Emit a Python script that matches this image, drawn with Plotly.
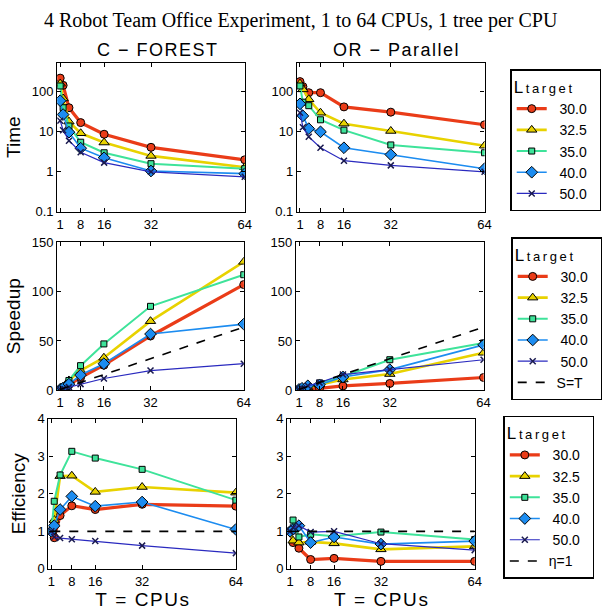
import plotly.graph_objects as go

# ---------------- data ----------------
T = [1, 2, 4, 8, 16, 32, 64]
labels = ["30.0", "32.5", "35.0", "40.0", "50.0"]

# C-FOREST time
cf_time_30 = [220, 145, 40, 17, 8.7, 4.1, 2.0]
cf_time_325 = [160, 68, 18, 9.2, 5.4, 2.5, 1.3]
cf_time_35 = [140, 40, 14, 5.5, 3.0, 1.6, 1.2]
cf_time_40 = [60, 27, 9.8, 3.9, 2.25, 1.05, 0.9]
cf_time_50 = [19, 11, 6.0, 3.1, 1.7, 1.0, 0.75]
# OR-Parallel time
or_time_30 = [180, 135, 95, 95, 42, 31, 15]
or_time_325 = [160, 115, 65, 30, 16, 10.5, 4.5]
or_time_35 = [140, 55, 45, 20, 11, 4.7, 3.0]
or_time_40 = [50, 25, 12, 10, 4.0, 2.7, 1.2]
or_time_50 = [30, 13, 7.5, 4.0, 1.9, 1.45, 1.0]
# C-FOREST speedup
cf_sp_30 = [1, 1.5, 5.5, 13, 25.5, 55, 107]
cf_sp_325 = [1, 2.6, 10, 20, 33, 70, 130]
cf_sp_35 = [1, 3.6, 10, 25, 47, 85, 117]
cf_sp_40 = [1, 2.3, 6.3, 15.5, 27, 57, 67]
cf_sp_50 = [1, 1.7, 3.3, 6.3, 12, 20, 27]
# OR-Parallel speedup
or_sp_30 = [1, 1.4, 2.2, 2.0, 4.5, 7, 13]
or_sp_325 = [1, 1.5, 2.8, 5.8, 11, 16.5, 38]
or_sp_35 = [1, 2.6, 3.4, 7.4, 14, 31, 48]
or_sp_40 = [1, 2.1, 4.6, 5.6, 13.5, 21, 46]
or_sp_50 = [1, 2.2, 4.6, 7.8, 16, 21, 31]
# C-FOREST efficiency
cf_eff_30 = [1, 0.83, 1.42, 1.68, 1.58, 1.72, 1.67]
cf_eff_325 = [1, 1.3, 2.47, 2.48, 2.05, 2.18, 2.03]
cf_eff_35 = [1, 1.8, 2.5, 3.13, 2.95, 2.65, 1.83]
cf_eff_40 = [1, 1.15, 1.58, 1.93, 1.67, 1.78, 1.05]
cf_eff_50 = [1, 0.85, 0.82, 0.79, 0.74, 0.62, 0.42]
# OR-Parallel efficiency
or_eff_30 = [1, 0.7, 0.55, 0.25, 0.28, 0.2, 0.2]
or_eff_325 = [1, 0.75, 0.7, 0.72, 0.68, 0.52, 0.6]
or_eff_35 = [1, 1.3, 0.85, 0.92, 0.87, 0.98, 0.78]
or_eff_40 = [1, 1.05, 1.15, 0.7, 0.85, 0.66, 0.74]
or_eff_50 = [1, 1.1, 1.15, 0.98, 1.0, 0.67, 0.5]
# reference lines
ideal_speedup = [1, 2, 4, 8, 16, 32, 64]
ideal_eff = [1, 1, 1, 1, 1, 1, 1]

x_ticks = [1, 8, 16, 32, 64]
time_ticks = [0.1, 1, 10, 100]
time_tick_text = ["0.1", "1", "10", "100"]
speedup_ticks = [0, 50, 100, 150]
eff_ticks = [0, 1, 2, 3, 4]

panels = [
    [cf_time_30, cf_time_325, cf_time_35, cf_time_40, cf_time_50],
    [or_time_30, or_time_325, or_time_35, or_time_40, or_time_50],
    [cf_sp_30, cf_sp_325, cf_sp_35, cf_sp_40, cf_sp_50],
    [or_sp_30, or_sp_325, or_sp_35, or_sp_40, or_sp_50],
    [cf_eff_30, cf_eff_325, cf_eff_35, cf_eff_40, cf_eff_50],
    [or_eff_30, or_eff_325, or_eff_35, or_eff_40, or_eff_50],
]

# ---------------- styles ----------------
colors = ["#ea3c18", "#e8d200", "#3ee39a", "#1c8cf0", "#2a2abf"]
widths = [3.2, 2.6, 2.0, 1.6, 1.2]
symbols = ["circle", "triangle-up", "square", "diamond", "x-thin"]
msizes = [8, 9, 6, 9, 6]
NB = "\u00a0"
HS = "\u200a"


def spaced(s):
    return HS.join(s)


W, H = 609, 612
# panel boxes in pixels: (x0, x1, y0_top, y1_bottom)
boxes = [
    (57, 247, 57, 210),
    (300, 490, 57, 210),
    (57, 246, 241, 393),
    (299, 489, 241, 393),
    (48, 238, 422, 576),
    (290, 480, 422, 576),
]
legend_pos = [(516, 64), (517, 236), (509, 419)]
FONT = "Liberation Sans, Arial, sans-serif"

fig = go.Figure()
for p, series in enumerate(panels):
    ax = "" if p == 0 else str(p + 1)
    row = p // 2
    right = p % 2 == 1
    leg = "legend" if row == 0 else f"legend{row + 1}"
    for i, ys in enumerate(series):
        sym = symbols[i]
        mk = dict(symbol=sym, size=msizes[i], color=colors[i],
                  line=dict(color="black", width=1))
        if sym == "x-thin":
            mk = dict(symbol=sym, size=msizes[i], color=colors[i],
                      line=dict(color="#1a1a50", width=1.5))
        fig.add_trace(go.Scatter(
            x=T, y=ys, mode="lines+markers", name=NB * 2 + labels[i] + NB * 2,
            line=dict(color=colors[i], width=widths[i]),
            marker=mk, xaxis="x" + ax, yaxis="y" + ax,
            legend=leg, showlegend=right))
    if row == 1:
        fig.add_trace(go.Scatter(
            x=T, y=ideal_speedup, mode="lines", name=NB + "S=T",
            line=dict(color="black", width=1.6, dash="dash"),
            xaxis="x" + ax, yaxis="y" + ax, legend=leg, showlegend=right))
    if row == 2:
        fig.add_trace(go.Scatter(
            x=T, y=ideal_eff, mode="lines", name=NB + "η=1",
            line=dict(color="black", width=1.6, dash="dash"),
            xaxis="x" + ax, yaxis="y" + ax, legend=leg, showlegend=right))

tickfont = dict(family=FONT, size=13, color="black")
axis_common = dict(showline=True, linecolor="black", linewidth=1.3, mirror="ticks",
                   ticks="inside", ticklen=4, tickcolor="black", showgrid=False,
                   zeroline=False, tickfont=tickfont)
layout = {}
for p, (x0, x1, y0, y1) in enumerate(boxes):
    ax = "" if p == 0 else str(p + 1)
    row = p // 2
    xa = dict(axis_common, domain=[x0 / W, x1 / W], range=[0, 64],
              tickvals=x_ticks, anchor="y" + ax)
    ya = dict(axis_common, domain=[1 - y1 / H, 1 - y0 / H], anchor="x" + ax)
    if row == 0:
        ya.update(type="log", range=[-1, 2.73], tickvals=time_ticks, ticktext=time_tick_text)
    elif row == 1:
        ya.update(range=[0, 150], tickvals=speedup_ticks)
    else:
        ya.update(range=[0, 4], tickvals=eff_ticks)
    if row == 2:
        xa["title"] = dict(text=spaced("T = CPUs"), font=dict(family=FONT, size=19, color="black"),
                           standoff=2)
    if p % 2 == 0:
        ya["title"] = dict(text=["Time", "Speedup", "Efficiency"][row],
                           font=dict(family=FONT, size=19, color="black"), standoff=6)
    layout["xaxis" + ax] = xa
    layout["yaxis" + ax] = ya

legend_title = dict(
    text="L<span style='font-size:13px'>\u2009t\u2009a\u2009r\u2009g\u2009e\u2009t</span>",
    font=dict(family=FONT, size=17, color="black"))
for k, (lx, ly) in enumerate(legend_pos):
    name = "legend" if k == 0 else f"legend{k + 1}"
    layout[name] = dict(x=lx / W, y=1 - ly / H, xanchor="left", yanchor="top",
                        bordercolor="black", borderwidth=1.5, bgcolor="white",
                        font=dict(family=FONT, size=14, color="black"),
                        title=legend_title, itemwidth=30)

annotations = [
    dict(text="4 Robot Team Office Experiment, 1 to 64 CPUs, 1 tree per CPU",
         x=304 / W, y=1 - 14 / H, xref="paper", yref="paper", showarrow=False,
         xanchor="center", yanchor="middle",
         font=dict(family="Liberation Serif, Times New Roman, serif", size=20, color="black")),
    dict(text=spaced("C − FOREST"), x=158 / W, y=1 - 44 / H, xref="paper", yref="paper",
         showarrow=False, xanchor="center", yanchor="middle",
         font=dict(family=FONT, size=18, color="black")),
    dict(text=spaced("OR − Parallel"), x=400 / W, y=1 - 44 / H, xref="paper", yref="paper",
         showarrow=False, xanchor="center", yanchor="middle",
         font=dict(family=FONT, size=18, color="black")),
]

fig.update_layout(width=W, height=H, margin=dict(l=0, r=0, t=0, b=0),
                  paper_bgcolor="white", plot_bgcolor="white",
                  annotations=annotations, **layout)

fig.write_html("out.html", config={"displayModeBar": False},
               post_script="document.body.style.margin='0';")
